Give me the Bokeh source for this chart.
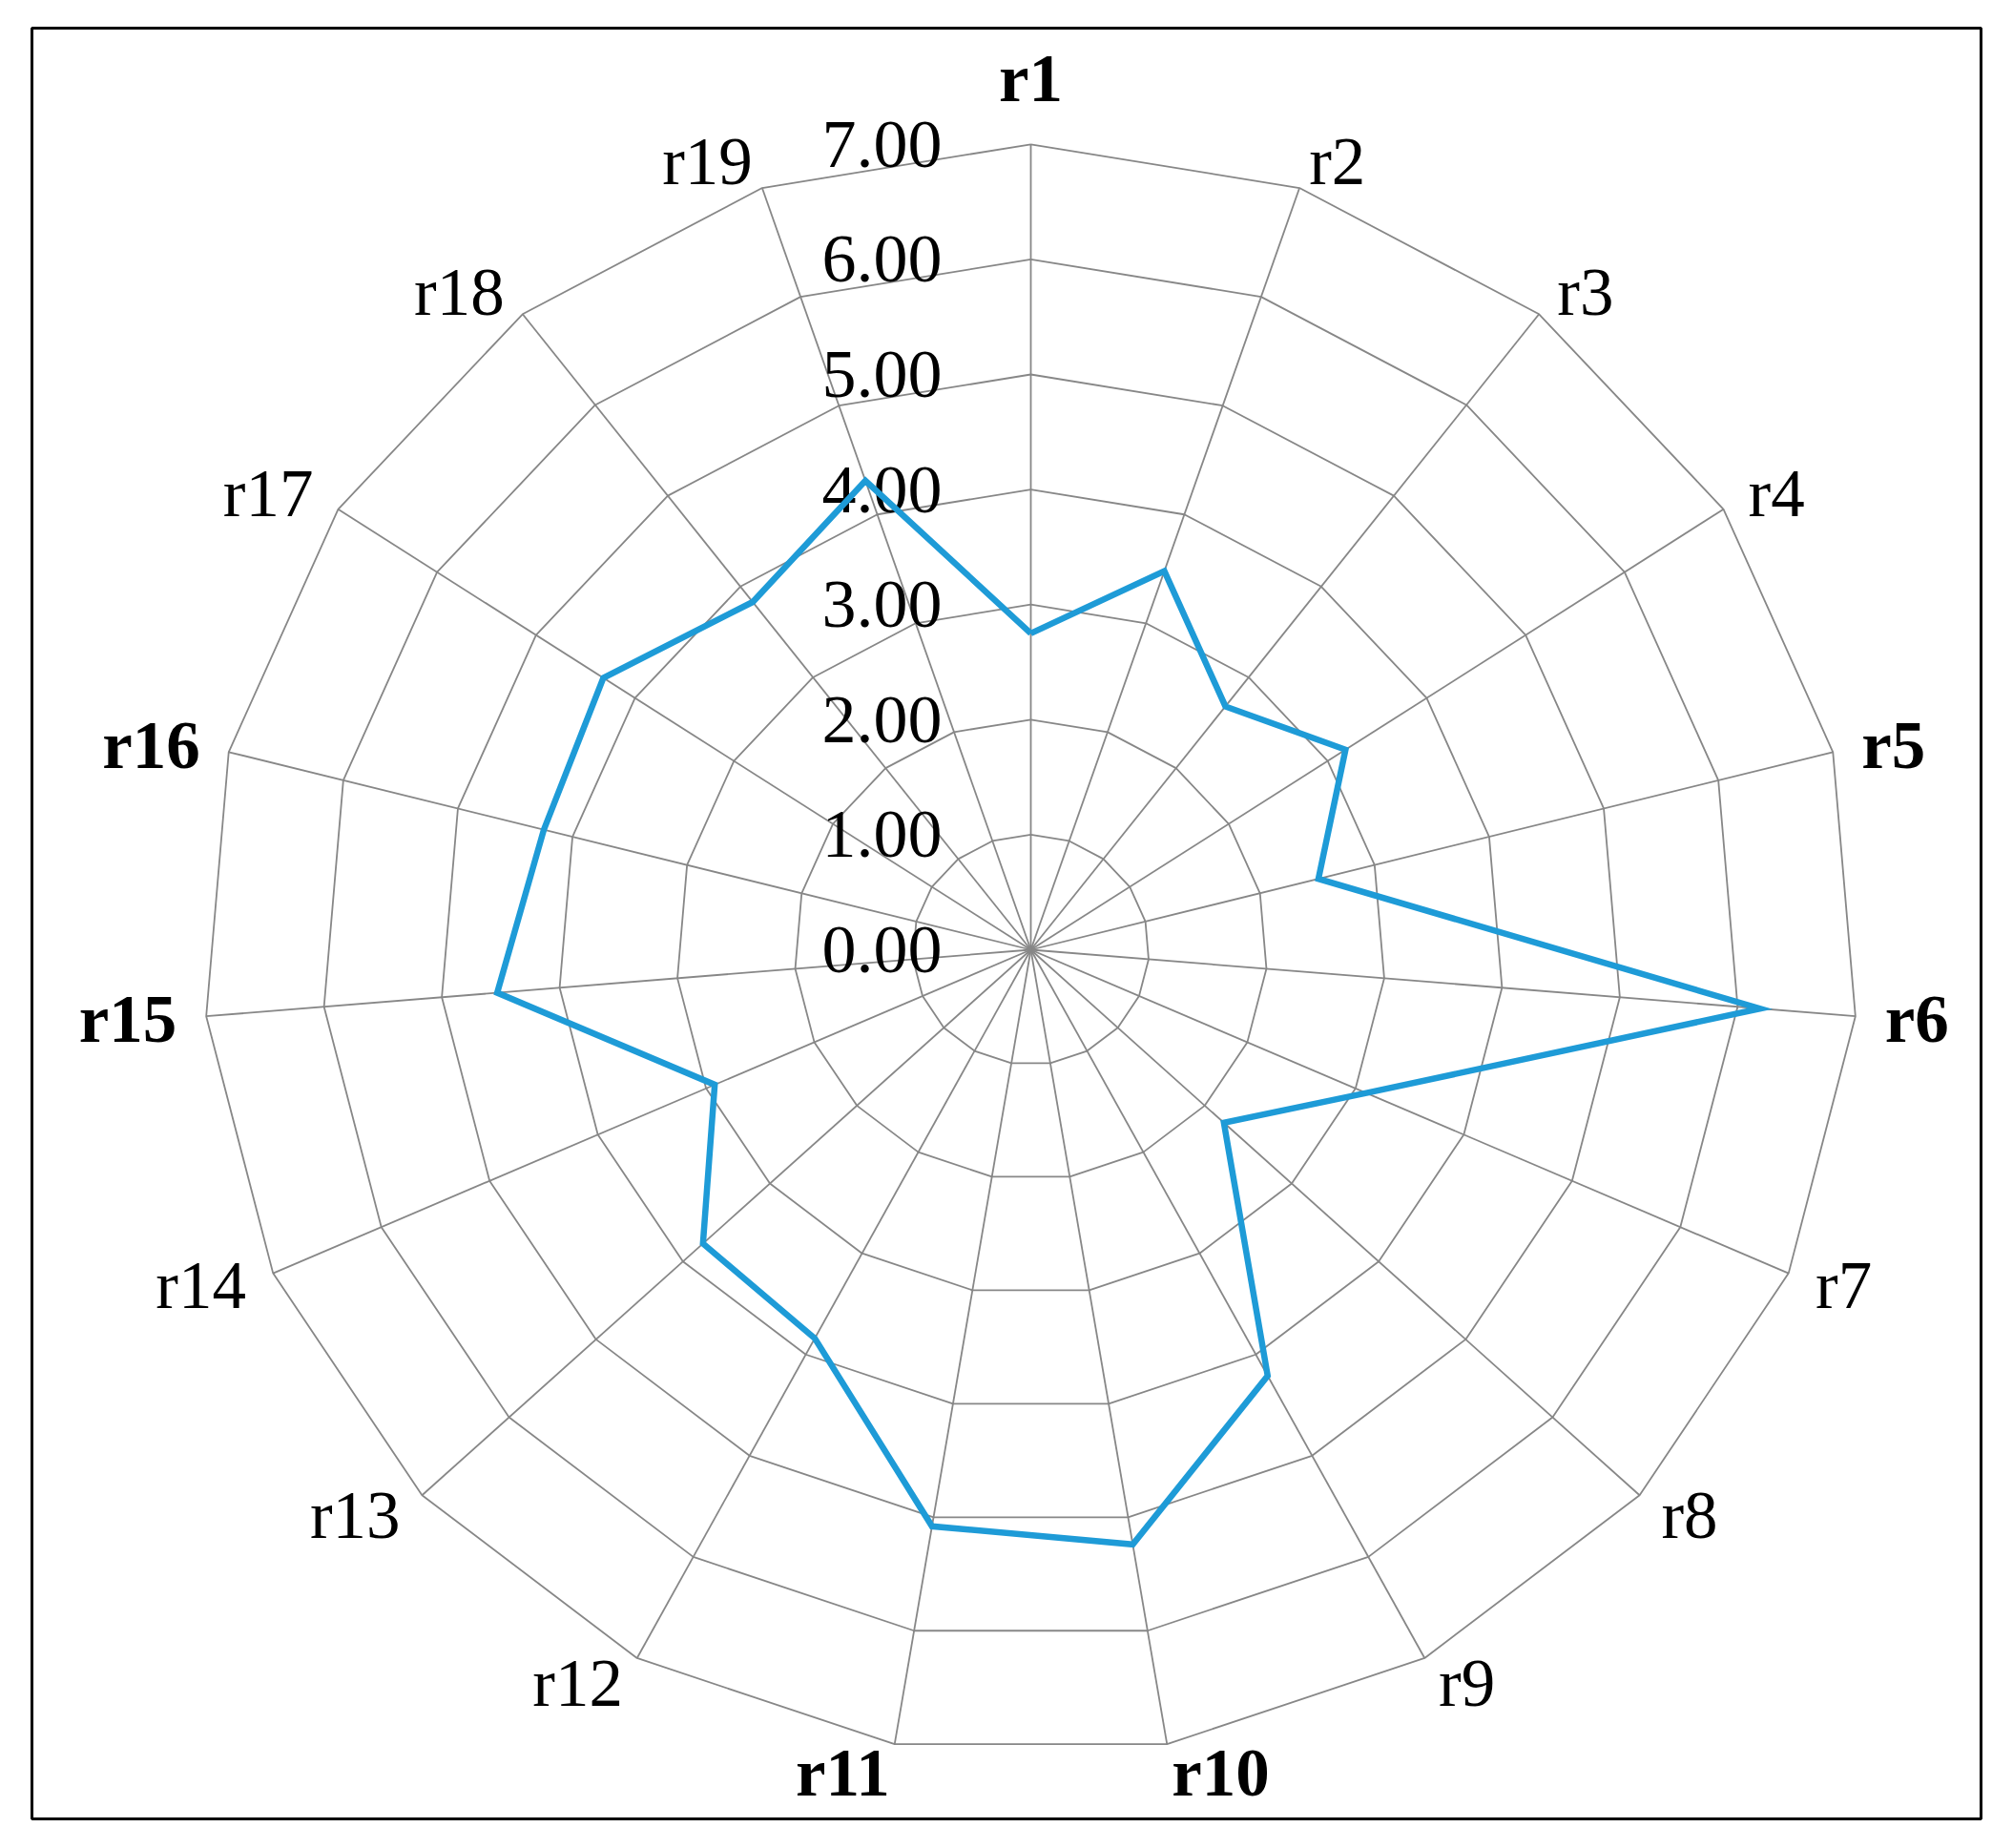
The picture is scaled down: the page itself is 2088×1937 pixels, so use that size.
import numpy as np
from bokeh.plotting import figure
from bokeh.models import ColumnDataSource, Range1d
from bokeh.core.properties import value
from bokeh.embed import file_html
from bokeh.resources import INLINE

# ---------------- data ----------------
categories = ["r1", "r2", "r3", "r4", "r5", "r6", "r7", "r8", "r9", "r10",
              "r11", "r12", "r13", "r14", "r15", "r16", "r17", "r18", "r19"]
values = [2.75, 3.48, 2.68, 3.18, 2.51, 6.19, 3.10, 2.22, 4.21, 5.24,
          5.08, 3.84, 3.77, 2.92, 4.53, 4.25, 4.32, 3.83, 4.31]
ring_values = [1, 2, 3, 4, 5, 6, 7]
tick_values = [0, 1, 2, 3, 4, 5, 6, 7]
tick_labels = ["0.00", "1.00", "2.00", "3.00", "4.00", "5.00", "6.00", "7.00"]
bold_categories = ["r1", "r5", "r6", "r10", "r11", "r15", "r16"]

# ---------------- layout ----------------
FRAME_W, FRAME_H = 2043, 1877
CX, CY = 1047, 966          # centre of the radar inside the frame (px)
SX, SY = 123.9, 120.6       # px per value unit (x, y)
R_MAX = 7
LABEL_R = 7.25
TICK_OFFSET_PX = 93
FONT = "Liberation Serif"

p = figure(frame_width=FRAME_W, frame_height=FRAME_H,
           min_border_left=33, min_border_top=29,
           min_border_right=4, min_border_bottom=4,
           x_range=Range1d(-CX / SX, (FRAME_W - CX) / SX),
           y_range=Range1d(-(FRAME_H - CY) / SY, CY / SY),
           x_axis_location=None, y_axis_location=None,
           output_backend="svg", toolbar_location=None,
           background_fill_color="white", border_fill_color="white")
p.grid.visible = False
p.outline_line_color = "black"
p.outline_line_width = 3

n = len(categories)
theta = 2 * np.pi * np.arange(n) / n
s, c = np.sin(theta), np.cos(theta)

# grid rings (polygons)
ring_xs = [list(np.append(r * s, r * s[0])) for r in ring_values]
ring_ys = [list(np.append(r * c, r * c[0])) for r in ring_values]
p.multi_line(ring_xs, ring_ys, line_color="#878787", line_width=1.8)

# spokes
spoke_xs = [[0, R_MAX * si] for si in s]
spoke_ys = [[0, R_MAX * ci] for ci in c]
p.multi_line(spoke_xs, spoke_ys, line_color="#878787", line_width=1.8)

# value tick labels along the r1 axis
p.text(x=[-TICK_OFFSET_PX / SX] * len(tick_values), y=tick_values, text=tick_labels,
       text_font=value(FONT), text_font_size="72px", text_color="black",
       text_align="right", text_baseline="middle")

# data series
v = np.array(values)
p.line(list(np.append(v * s, v[0] * s[0])), list(np.append(v * c, v[0] * c[0])),
       line_color="#1E9BD7", line_width=6.5, line_join="miter")

# category labels
aligns, baselines, styles = [], [], []
for k in range(n):
    if abs(s[k]) < 1e-6:
        aligns.append("center")
        baselines.append("bottom" if c[k] > 0 else "top")
    else:
        aligns.append("left" if s[k] > 0 else "right")
        baselines.append("middle")
    styles.append("bold" if categories[k] in bold_categories else "normal")

src = ColumnDataSource(dict(x=LABEL_R * s, y=LABEL_R * c, text=categories,
                            align=aligns, base=baselines, style=styles))
p.text(x="x", y="y", text="text", source=src,
       text_font=value(FONT), text_font_size="71px", text_color="black",
       text_align="align", text_baseline="base", text_font_style="style")

open("out.html", "w").write(file_html(p, INLINE))
